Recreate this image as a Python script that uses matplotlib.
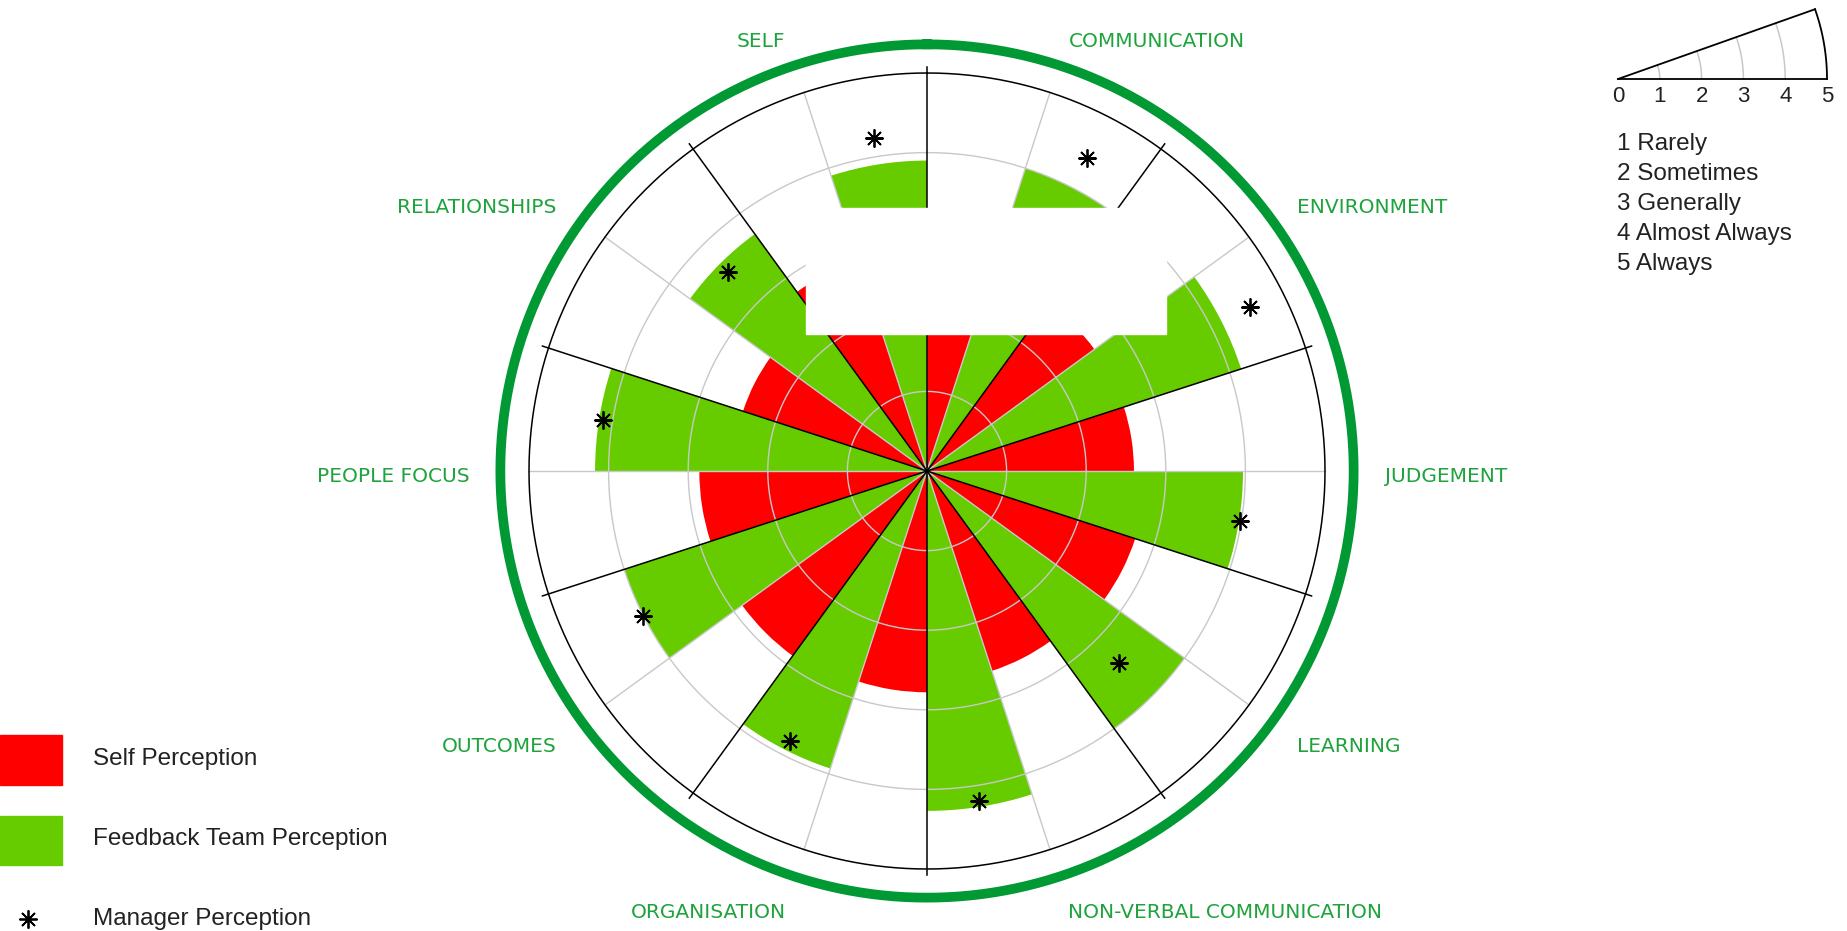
import numpy as np
import matplotlib
matplotlib.use("Agg")
from matplotlib import pyplot as plt
from matplotlib.patches import Rectangle
from matplotlib.transforms import offset_copy

# categories clockwise, SELF sector starts at 324 deg (compass)
categories = ["SELF", "COMMUNICATION", "ENVIRONMENT", "JUDGEMENT", "LEARNING",
              "NON-VERBAL COMMUNICATION", "ORGANISATION", "OUTCOMES",
              "PEOPLE FOCUS", "RELATIONSHIPS"]
self_perception = [2.78, 2.9, 2.6, 2.6, 2.75, 2.64, 2.78, 2.87, 2.86, 2.43]
team_perception = [3.9, 4.0, 4.15, 3.97, 4.0, 4.27, 3.93, 4.0, 4.17, 3.68]
manager_perception = [4.23, 4.42, 4.55, 3.98, 3.42, 4.2, 3.8, 4.0, 4.12, 3.53]
scale_labels = ["1 Rarely", "2 Sometimes", "3 Generally", "4 Almost Always", "5 Always"]

RED = "#ff0000"
GREEN = "#66cc00"
DARK_GREEN = "#009933"
LABEL_GREEN = "#1fa33c"
GRID = "#c8c8c8"

W, H = 1847, 931
fig = plt.figure(figsize=(W / 100, H / 100), dpi=100)

# polar chart: centre (927, 471) px, 1 unit = 79.6 px
unit = 79.6
rmax = 6.0
cx, cy = 927, 471
half = rmax * unit
ax = fig.add_axes([(cx - half) / W, (H - cy - half) / H, 2 * half / W, 2 * half / H],
                  projection="polar")
ax.set_theta_zero_location("N")
ax.set_theta_direction(-1)
ax.set_ylim(0, rmax)
ax.axis("off")

n = len(categories)
sector = 360 / n
starts = np.array([(324 + sector * i) % 360 for i in range(n)])
w = np.deg2rad(sector / 2)

ax.bar(np.deg2rad(starts), self_perception, width=w, align="edge",
       color=RED, linewidth=0, zorder=2)
ax.bar(np.deg2rad(starts + sector / 2), team_perception, width=w, align="edge",
       color=GREEN, linewidth=0, zorder=2)

# grid
t = np.linspace(0, 2 * np.pi, 721)
for r in [1, 2, 3, 4]:
    ax.plot(t, np.full_like(t, r), color=GRID, lw=1.0, zorder=3)
ax.plot(t, np.full_like(t, 5), color="black", lw=1.1, zorder=4)
ax.plot(t, np.full_like(t, 5.36), color=DARK_GREEN, lw=7, zorder=4)

for s in starts:
    c = np.deg2rad(s + sector / 2)
    ax.plot([c, c], [0, 5], color=GRID, lw=1.0, zorder=3)
    b = np.deg2rad(s)
    ax.plot([b, b], [0, 5.08], color="black", lw=1.1, zorder=4)

# manager stars in the middle of the green half
ax.plot(np.deg2rad(starts + sector * 0.75), manager_perception, ls="none",
        marker=(8, 2, 0), ms=13, mew=1.3, color="black", zorder=5)

# category labels
lab_tr = offset_copy(ax.transData, fig=fig, x=0, y=-6, units="dots")
for s, lab in zip(starts, categories):
    a = (s + sector / 2) % 360
    ha = "left" if 0 < a < 180 else "right"
    ax.text(np.deg2rad(a), 5.75, lab, ha=ha, va="center", fontsize=14.5,
            color=LABEL_GREEN, family="DejaVu Sans", transform=lab_tr)

# overlay in pixel coordinates for legends and the blanked area
ov = fig.add_axes([0, 0, 1, 1])
ov.set_xlim(0, W)
ov.set_ylim(H, 0)
ov.axis("off")
ov.patch.set_alpha(0)

ov.add_patch(Rectangle((806, 208), 360, 126, color="white", zorder=10))

# scale wedge
ox, oy, su = 1618, 79, 41.8
ang = np.deg2rad(19.5)
ta = np.linspace(0, ang, 50)
for k in range(1, 6):
    ov.plot(ox + k * su * np.cos(ta), oy - k * su * np.sin(ta),
            color="black" if k == 5 else GRID, lw=1.3 if k == 5 else 1.1)
ov.plot([ox, ox + 5 * su], [oy, oy], color="black", lw=1.3)
ov.plot([ox, ox + 5 * su * np.cos(ang)], [oy, oy - 5 * su * np.sin(ang)],
        color="black", lw=1.3)
for k in range(6):
    ov.text(ox + k * su, 96, str(k), ha="center", va="center", fontsize=16,
            color="#222222", family="Liberation Sans")
for i, lab in enumerate(scale_labels):
    ov.text(1617, 150 + 30 * i, lab, ha="left", va="baseline", fontsize=17.5,
            color="#222222", family="Liberation Sans")

# series legend
ov.add_patch(Rectangle((0, 735), 62, 50, color=RED))
ov.add_patch(Rectangle((0, 816), 62, 49, color=GREEN))
ov.plot([28], [919], ls="none", marker=(8, 2, 0), ms=13, mew=1.3, color="black")
for y, lab in zip([765, 845, 925], ["Self Perception", "Feedback Team Perception",
                                    "Manager Perception"]):
    ov.text(93, y, lab, ha="left", va="baseline", fontsize=17.5,
            color="#222222", family="Liberation Sans")

fig.savefig("out.png", dpi=100)
